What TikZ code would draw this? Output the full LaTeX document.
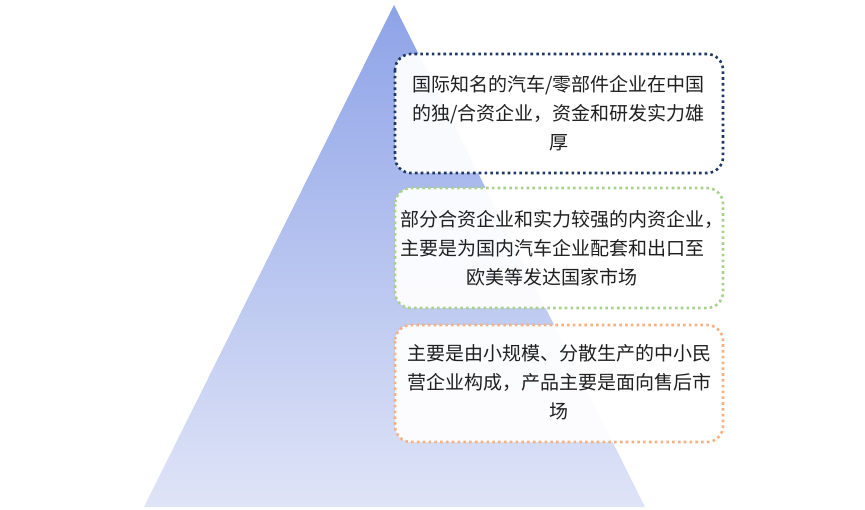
\documentclass[tikz,border=0pt]{standalone}
\usepackage{fontspec}
\newfontfamily\cjk{Noto Sans CJK SC}
\begin{document}
\begin{tikzpicture}[x=1pt,y=-1pt,
  tbox/.style={rounded corners=16pt, line width=2.6pt, dash pattern=on 2.6pt off 3.2pt, fill=white, fill opacity=0.94},
  ttext/.style={align=center, font=\cjk\fontsize{19}{29}\selectfont, text=black!88, inner sep=0pt}]
\definecolor{navy}{HTML}{203864}
\definecolor{lgreen}{HTML}{A9D18E}
\definecolor{lorange}{HTML}{F4B183}
\definecolor{tritop}{HTML}{8EA3E8}
\definecolor{tribot}{HTML}{DFE4F7}
\useasboundingbox (0,0) rectangle (865,509);
\coordinate (apex) at (394,5);
\coordinate (bl) at (144,507);
\coordinate (br) at (645,507);
\shade[top color=tritop, bottom color=tribot] (apex) -- (br) -- (bl) -- cycle;
\draw[tbox, draw=navy] (395,54) rectangle (723,173);
\draw[tbox, draw=lgreen] (395,188) rectangle (723,308);
\draw[tbox, draw=lorange] (395,325) rectangle (723,442);
\node[ttext] (t1) at (558.5,113.5) {国际知名的汽车/零部件企业在中国\\的独/合资企业，资金和研发实力雄\\厚};
\node[ttext] (t2) at (552,248) {\makebox[304pt][l]{部分合资企业和实力较强的内资企业，}\\主要是为国内汽车企业配套和出口至\\欧美等发达国家市场};
\node[ttext] (t3) at (559,382) {主要是由小规模、分散生产的中小民\\营企业构成，产品主要是面向售后市\\场};
\end{tikzpicture}
\end{document}
